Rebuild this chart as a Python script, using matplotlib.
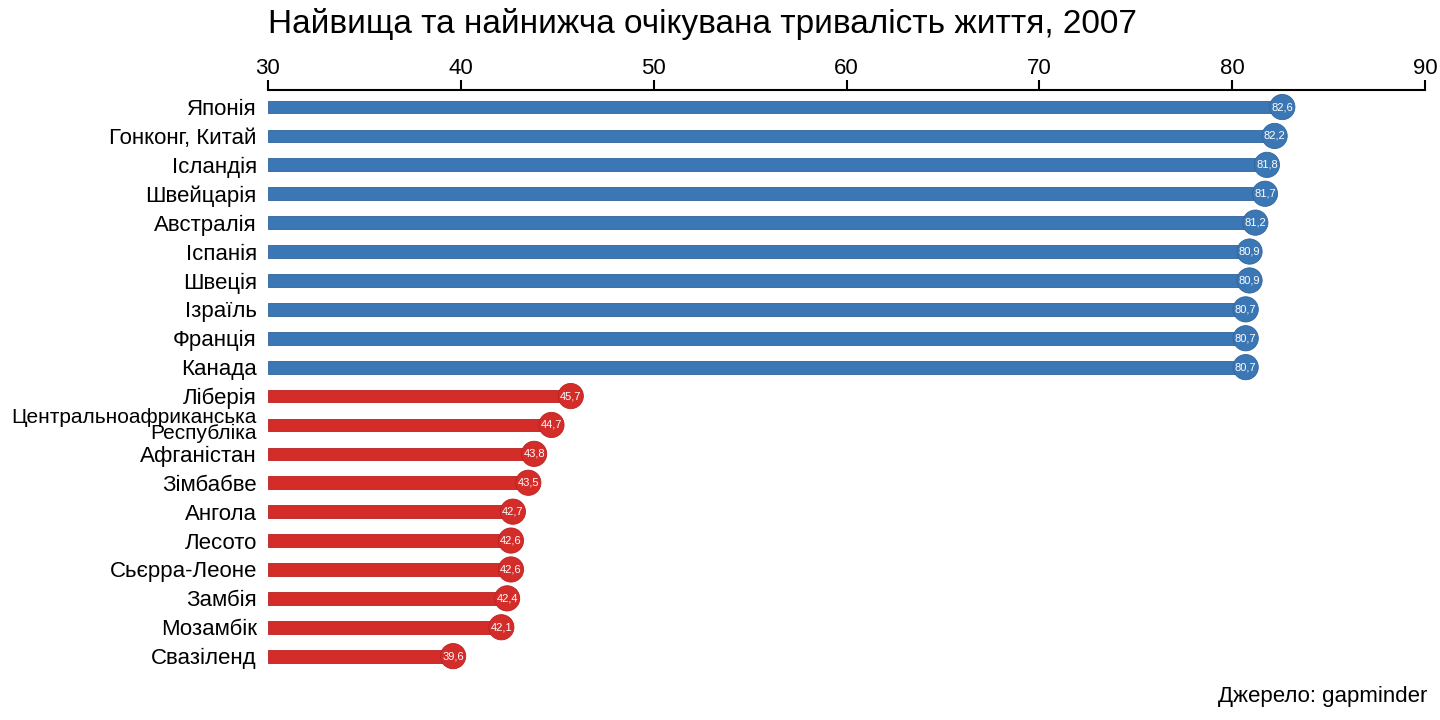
import matplotlib.pyplot as plt
import numpy as np

plt.rcParams['font.family'] = ['Liberation Sans', 'DejaVu Sans']

# data
top_countries = ['Японія', 'Гонконг, Китай', 'Ісландія', 'Швейцарія', 'Австралія',
                 'Іспанія', 'Швеція', 'Ізраїль', 'Франція', 'Канада']
top_values = [82.6, 82.2, 81.8, 81.7, 81.2, 80.9, 80.9, 80.7, 80.7, 80.7]
bottom_countries = ['Ліберія', 'Центральноафриканська\nРеспубліка', 'Афганістан', 'Зімбабве',
                    'Ангола', 'Лесото', 'Сьєрра-Леоне', 'Замбія', 'Мозамбік', 'Свазіленд']
bottom_values = [45.7, 44.7, 43.8, 43.5, 42.7, 42.6, 42.6, 42.4, 42.1, 39.6]

countries = top_countries + bottom_countries
values = np.array(top_values + bottom_values)
colors = ['#3b77b4'] * len(top_values) + ['#d42d29'] * len(bottom_values)
edges = ['#30659c'] * len(top_values) + ['#b82222'] * len(bottom_values)

fig = plt.figure(figsize=(14.4, 7.2), dpi=100)
ax = fig.add_axes([0.1861, 0.0417, 0.9896 - 0.1861, 0.875 - 0.0417])

y = np.arange(len(countries))
base = 30
ax.barh(y, values - base, left=base, height=0.44, color=colors, edgecolor=edges, linewidth=0.6)
ax.scatter(values, y, s=330, c=colors, edgecolors=edges, linewidths=0.6, zorder=3)
for v, yy in zip(values, y):
    ax.text(v, yy, f'{v:.1f}'.replace('.', ','), ha='center', va='center',
            color='white', fontsize=8, zorder=4)

ax.set_xlim(30, 90)
ax.set_ylim(20.17, -0.59)
ax.set_xticks(range(30, 91, 10))
ax.xaxis.tick_top()
ax.tick_params(axis='x', labelsize=16, length=7, width=1.5, pad=1)
ax.set_yticks(y)
ax.set_yticklabels(countries, fontsize=16, linespacing=0.8)
ax.tick_params(axis='y', length=0, pad=8)
for lbl in ax.get_yticklabels():
    if '\n' in lbl.get_text():
        lbl.set_fontsize(15)
for s in ['right', 'bottom', 'left']:
    ax.spines[s].set_visible(False)
ax.spines['top'].set_linewidth(1.5)

fig.text(0.488, 0.966, 'Найвища та найнижча очікувана тривалість життя, 2007',
         ha='center', va='center', fontsize=24)
fig.text(0.991, 0.032, 'Джерело: gapminder', ha='right', va='center', fontsize=16)

fig.savefig('out.png', dpi=100)
